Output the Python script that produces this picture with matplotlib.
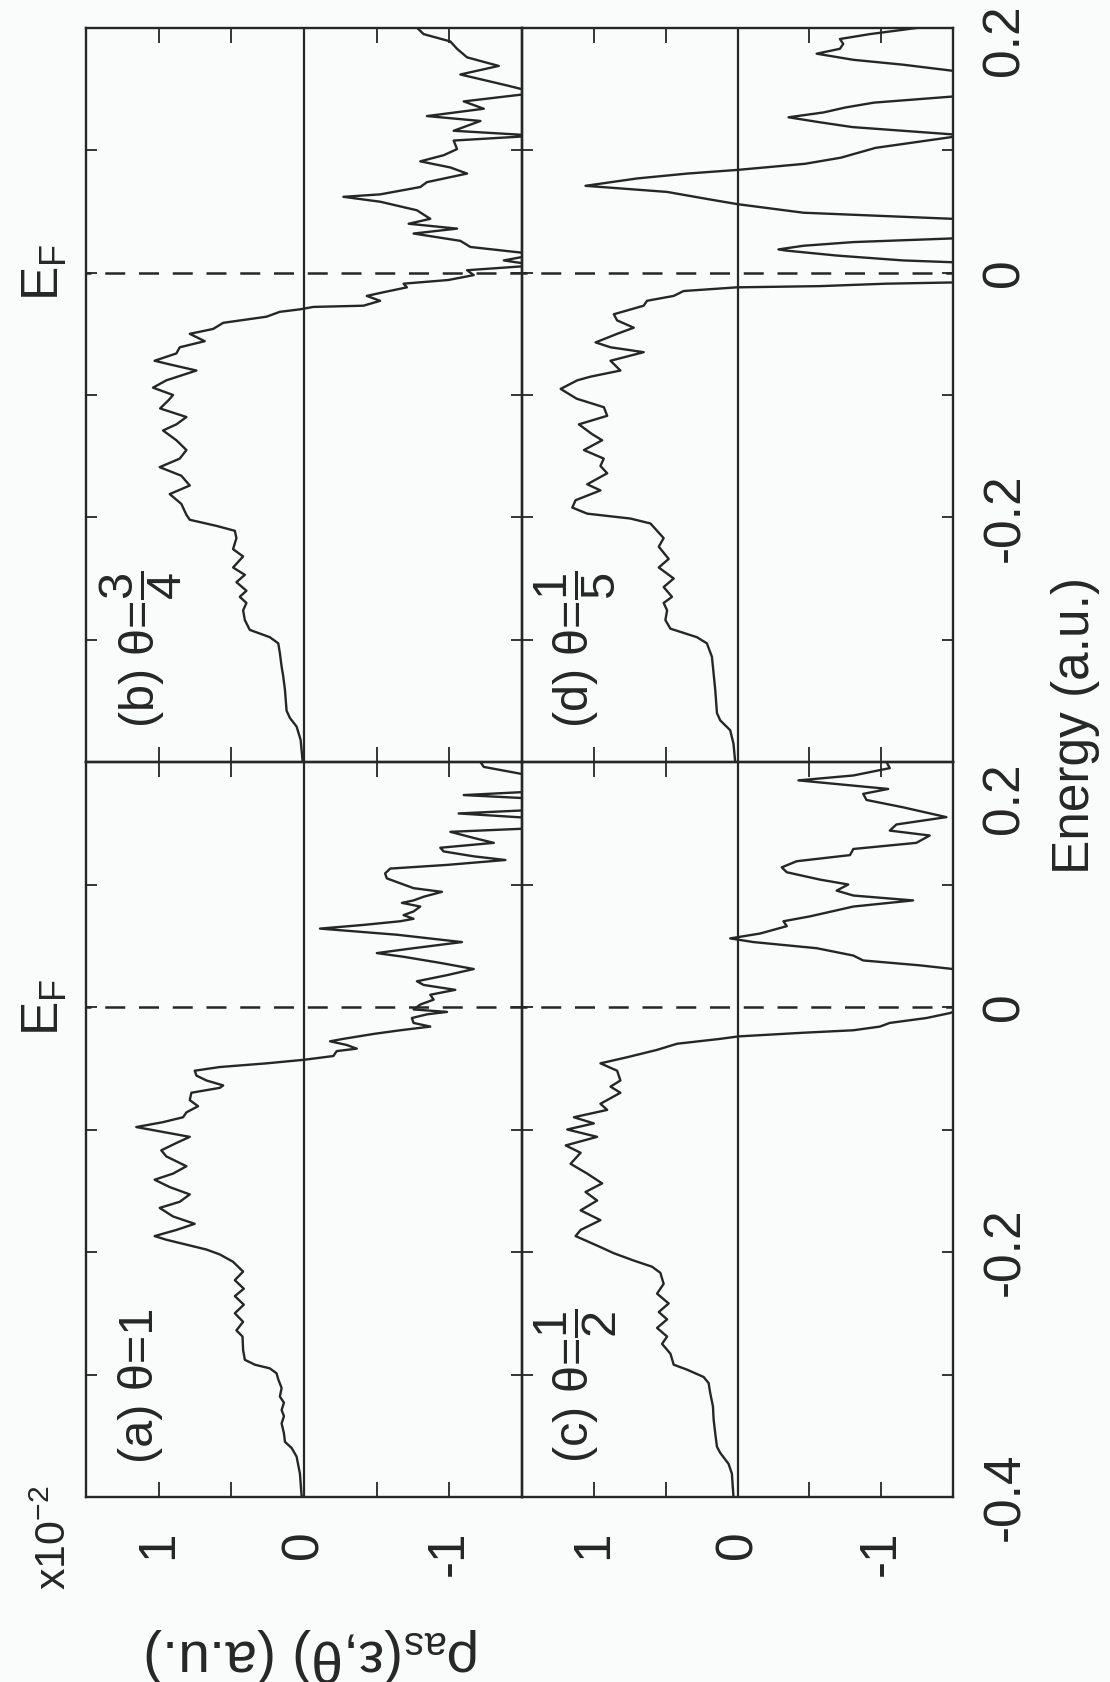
import matplotlib
matplotlib.use("Agg")
import matplotlib.pyplot as plt
import matplotlib.transforms as mtransforms

plt.rcParams['font.family'] = ['Liberation Sans', 'DejaVu Sans']
plt.rcParams['mathtext.fontset'] = 'custom'
plt.rcParams['mathtext.rm'] = 'Liberation Sans'
plt.rcParams['mathtext.it'] = 'Liberation Sans'
plt.rcParams['mathtext.bf'] = 'Liberation Sans:bold'
plt.rcParams['mathtext.sf'] = 'Liberation Sans'

# ---------------- data (energy in a.u., rho_as in units of 1e-2) ----------------
E_a = [-0.400, -0.381, -0.367, -0.360, -0.355, -0.348, -0.340, -0.334, -0.329, -0.323,
       -0.318, -0.311, -0.304, -0.299, -0.295, -0.292, -0.288, -0.280, -0.269, -0.264,
       -0.257, -0.250, -0.243, -0.236, -0.230, -0.223, -0.216, -0.208, -0.202, -0.198,
       -0.194, -0.190, -0.187, -0.182, -0.177, -0.171, -0.164, -0.159, -0.153, -0.147,
       -0.141, -0.136, -0.130, -0.122, -0.117, -0.111, -0.106, -0.098, -0.094, -0.090,
       -0.086, -0.081, -0.076, -0.070, -0.066, -0.064, -0.060, -0.056, -0.052, -0.049,
       -0.046, -0.043, -0.040, -0.036, -0.034, -0.031, -0.028, -0.026, -0.022, -0.019,
       -0.016, -0.013, -0.009, -0.006, -0.004, -0.002, 0.002, 0.006, 0.010, 0.014,
       0.018, 0.021, 0.026, 0.031, 0.036, 0.041, 0.044, 0.048, 0.053, 0.059,
       0.064, 0.067, 0.070, 0.072, 0.075, 0.078, 0.082, 0.085, 0.087, 0.090,
       0.094, 0.097, 0.101, 0.105, 0.109, 0.113, 0.116, 0.120, 0.123, 0.127,
       0.130, 0.134, 0.138, 0.143, 0.146, 0.154, 0.158, 0.161, 0.170, 0.173,
       0.176, 0.188, 0.196, 0.200]
rho_a = [0.016, 0.028, 0.051, 0.085, 0.131, 0.138, 0.154, 0.138, 0.154, 0.138,
         0.166, 0.154, 0.177, 0.189, 0.235, 0.338, 0.407, 0.419, 0.423, 0.465,
         0.419, 0.476, 0.414, 0.476, 0.414, 0.476, 0.419, 0.488, 0.579, 0.671,
         0.809, 0.947, 1.028, 0.878, 0.752, 0.901, 0.993, 0.855, 0.786, 0.924,
         1.028, 0.901, 0.809, 0.947, 0.982, 0.878, 0.786, 1.154, 0.970, 0.832,
         0.809, 0.729, 0.786, 0.775, 0.579, 0.556, 0.671, 0.740, 0.752, 0.579,
         0.258, -0.007, -0.202, -0.225, -0.363, -0.294, -0.179, -0.271, -0.478, -0.662,
         -0.869, -0.754, -0.742, -0.846, -0.984, -0.754, -0.800, -0.892, -0.869, -1.041,
         -0.823, -0.777, -0.984, -1.168, -0.938, -0.685, -0.501, -0.754, -1.087, -0.639,
         -0.110, -0.409, -0.662, -0.754, -0.685, -0.754, -0.800, -0.674, -0.754, -0.823,
         -0.949, -0.754, -0.662, -0.570, -0.558, -0.593, -0.984, -1.386, -1.168, -0.961,
         -0.938, -1.306, -1.168, -1.007, -1.600, -1.600, -1.064, -1.600, -1.600, -1.099,
         -1.600, -1.600, -1.237, -1.214]

E_b = [-0.400, -0.382, -0.371, -0.364, -0.358, -0.341, -0.330, -0.322, -0.311, -0.303,
       -0.298, -0.292, -0.284, -0.276, -0.270, -0.265, -0.260, -0.253, -0.247, -0.241,
       -0.232, -0.226, -0.217, -0.211, -0.207, -0.202, -0.198, -0.189, -0.181, -0.174,
       -0.166, -0.159, -0.152, -0.145, -0.137, -0.129, -0.124, -0.118, -0.111, -0.104,
       -0.100, -0.094, -0.088, -0.080, -0.075, -0.072, -0.066, -0.061, -0.056, -0.050,
       -0.046, -0.041, -0.036, -0.032, -0.030, -0.028, -0.027, -0.023, -0.019, -0.016,
       -0.012, -0.009, -0.006, -0.002, 0.002, 0.006, 0.010, 0.015, 0.021, 0.026,
       0.032, 0.036, 0.040, 0.044, 0.051, 0.058, 0.062, 0.064, 0.070, 0.074,
       0.081, 0.086, 0.091, 0.096, 0.101, 0.108, 0.112, 0.116, 0.124, 0.128,
       0.134, 0.140, 0.147, 0.153, 0.162, 0.169, 0.176, 0.183, 0.189, 0.195,
       0.200]
rho_b = [0.009, 0.023, 0.051, 0.097, 0.120, 0.131, 0.143, 0.154, 0.166, 0.177,
         0.235, 0.373, 0.407, 0.419, 0.396, 0.442, 0.396, 0.465, 0.407, 0.488,
         0.419, 0.488, 0.465, 0.476, 0.602, 0.786, 0.809, 0.844, 0.924, 0.786,
         0.844, 0.993, 0.855, 0.809, 0.878, 0.970, 0.878, 0.809, 0.990, 0.930,
         0.901, 1.039, 0.947, 0.740, 0.924, 1.028, 0.878, 0.855, 0.683, 0.786,
         0.625, 0.556, 0.258, 0.166, 0.028, -0.064, -0.409, -0.524, -0.432, -0.547,
         -0.708, -0.685, -0.993, -1.168, -1.122, -1.600, -1.375, -1.600, -1.145, -1.076,
         -0.754, -1.053, -0.720, -0.869, -0.777, -0.524, -0.271, -0.524, -0.800, -0.846,
         -1.122, -1.007, -0.800, -0.961, -1.053, -1.030, -1.600, -1.030, -1.214, -0.846,
         -1.237, -1.099, -1.600, -1.398, -1.076, -1.340, -1.122, -1.053, -1.007, -0.823,
         -0.780]

E_c = [-0.400, -0.381, -0.373, -0.364, -0.359, -0.348, -0.337, -0.326, -0.315, -0.307,
       -0.302, -0.296, -0.292, -0.283, -0.275, -0.269, -0.262, -0.255, -0.249, -0.242,
       -0.234, -0.226, -0.217, -0.212, -0.207, -0.201, -0.196, -0.187, -0.182, -0.174,
       -0.166, -0.158, -0.151, -0.144, -0.136, -0.128, -0.119, -0.113, -0.106, -0.100,
       -0.095, -0.090, -0.084, -0.079, -0.070, -0.065, -0.060, -0.052, -0.046, -0.041,
       -0.035, -0.030, -0.026, -0.024, -0.021, -0.019, -0.016, -0.013, -0.009, -0.005,
       0.000, 0.011, 0.022, 0.031, 0.034, 0.038, 0.042, 0.048, 0.053, 0.056,
       0.060, 0.066, 0.070, 0.074, 0.082, 0.087, 0.091, 0.095, 0.100, 0.104,
       0.110, 0.114, 0.119, 0.124, 0.129, 0.134, 0.140, 0.144, 0.149, 0.155,
       0.163, 0.169, 0.174, 0.178, 0.185, 0.189, 0.195, 0.200]
rho_c = [0.028, 0.039, 0.062, 0.120, 0.143, 0.155, 0.166, 0.171, 0.190, 0.201,
         0.236, 0.352, 0.444, 0.467, 0.525, 0.490, 0.560, 0.490, 0.548, 0.479,
         0.560, 0.514, 0.537, 0.595, 0.722, 0.861, 0.954, 1.127, 1.092, 0.954,
         1.092, 0.977, 1.058, 0.942, 1.046, 1.162, 1.092, 1.196, 0.977, 1.185,
         1.000, 1.139, 0.907, 0.954, 0.815, 0.884, 0.815, 0.838, 0.954, 0.768,
         0.560, 0.421, 0.120, -0.007, -0.459, -0.806, -0.991, -1.060, -1.315, -1.477,
         -1.600, -1.700, -1.600, -1.500, -1.269, -0.875, -0.806, -0.551, -0.111, 0.051,
         -0.158, -0.343, -0.320, -0.505, -0.806, -1.222, -0.806, -0.690, -0.771, -0.574,
         -0.343, -0.308, -0.412, -0.783, -0.806, -1.245, -1.338, -1.060, -1.106, -1.454,
         -1.153, -0.898, -0.875, -1.049, -0.424, -0.806, -1.060, -1.037]

E_d = [-0.400, -0.385, -0.374, -0.366, -0.360, -0.341, -0.328, -0.314, -0.303, -0.298,
       -0.291, -0.284, -0.276, -0.270, -0.265, -0.257, -0.250, -0.241, -0.234, -0.224,
       -0.217, -0.211, -0.205, -0.201, -0.197, -0.192, -0.186, -0.178, -0.173, -0.164,
       -0.158, -0.152, -0.145, -0.137, -0.132, -0.124, -0.117, -0.110, -0.103, -0.095,
       -0.088, -0.085, -0.080, -0.072, -0.065, -0.061, -0.057, -0.050, -0.045, -0.039,
       -0.034, -0.027, -0.023, -0.019, -0.015, -0.012, -0.011, -0.009, -0.008, 0.000,
       0.0085, 0.010, 0.014, 0.018, 0.019, 0.022, 0.025, 0.028, 0.036, 0.044,
       0.049, 0.056, 0.060, 0.066, 0.071, 0.077, 0.081, 0.084, 0.089, 0.094,
       0.102, 0.111, 0.113, 0.119, 0.123, 0.127, 0.131, 0.135, 0.139, 0.144,
       0.154, 0.165, 0.170, 0.174, 0.179, 0.183, 0.187, 0.191, 0.195, 0.200]
rho_d = [0.016, 0.028, 0.051, 0.120, 0.143, 0.155, 0.166, 0.178, 0.213, 0.282,
         0.467, 0.502, 0.490, 0.514, 0.456, 0.514, 0.444, 0.548, 0.479, 0.548,
         0.514, 0.560, 0.606, 0.745, 1.046, 1.150, 1.127, 0.954, 1.046, 0.907,
         0.954, 0.931, 1.069, 0.942, 1.012, 1.104, 0.907, 0.930, 1.120, 1.231,
         1.115, 1.023, 0.815, 0.884, 0.653, 0.884, 0.988, 0.838, 0.722, 0.838,
         0.861, 0.653, 0.630, 0.444, 0.375, 0.005, -0.574, -1.037, -1.500, -1.700,
         -1.500, -1.153, -0.690, -0.343, -0.285, -0.459, -0.806, -1.500, -1.700, -1.500,
         -0.459, 0.000, 0.200, 0.490, 1.058, 0.700, 0.350, 0.000, -0.470, -0.720,
         -0.960, -1.500, -1.500, -0.800, -0.570, -0.355, -0.600, -0.750, -0.950, -1.500,
         -1.700, -1.500, -1.153, -0.806, -0.551, -0.713, -0.736, -0.713, -0.921, -1.245]

panel_labels = ['(a) θ=1', '(b) θ=$\\dfrac{3}{4}$', '(c) θ=$\\dfrac{1}{2}$', '(d) θ=$\\dfrac{1}{5}$']
energy_ticks = [-0.4, -0.3, -0.2, -0.1, 0.0, 0.1, 0.2]
energy_labels_low = ['-0.4', '', '-0.2', '', '0', '', '0.2']
energy_labels_high = ['', '', '-0.2', '', '0', '', '0.2']
rho_ticks = [1.0, 0.5, 0.0, -0.5, -1.0]
rho_labels = ['1', '', '0', '', '-1']
E_fermi = 0.0
x_label = 'Energy (a.u.)'
y_label = 'ρ$_{\\rm as}$(ε,θ) (a.u.)'
scale_label = 'x10$^{-2}$'
fermi_label = 'E$_{\\rm F}$'

# ---------------- figure ----------------
W, H = 1110, 1682
INK = '#262626'
fig = plt.figure(figsize=(W / 100, H / 100), dpi=100)
fig.patch.set_facecolor('#fafbfb')


def rect(x0, x1, y0, y1):
    return [x0 / W, 1 - y1 / H, (x1 - x0) / W, (y1 - y0) / H]


ax_b = fig.add_axes(rect(86, 522, 28, 762))
ax_a = fig.add_axes(rect(86, 522, 762, 1497))
ax_d = fig.add_axes(rect(522, 953, 28, 762))
ax_c = fig.add_axes(rect(522, 953, 762, 1497))

panels = [
    (ax_a, E_a, rho_a, panel_labels[0], True, False),
    (ax_b, E_b, rho_b, panel_labels[1], False, False),
    (ax_c, E_c, rho_c, panel_labels[2], True, True),
    (ax_d, E_d, rho_d, panel_labels[3], False, True),
]

for ax, E, rho, lab, bottom_row, right_col in panels:
    ax.set_facecolor('none')
    ax.plot(rho, E, color=INK, lw=1.7, solid_joinstyle='round', clip_on=True)
    ax.axvline(0, color=INK, lw=1.6)
    ax.axhline(E_fermi, color=INK, lw=1.8, linestyle=(6, (8, 5.5)))
    ax.set_xlim(1.5, -1.5)
    ax.set_ylim(-0.4, 0.2)
    for s in ax.spines.values():
        s.set_linewidth(1.7)
        s.set_color(INK)
    ax.set_xticks(rho_ticks)
    ax.set_xticklabels(rho_labels if bottom_row else [''] * len(rho_ticks))
    ax.set_yticks(energy_ticks)
    if right_col:
        ax.set_yticklabels(energy_labels_low if bottom_row else energy_labels_high)
    else:
        ax.set_yticklabels([''] * len(energy_ticks))
    ax.tick_params(axis='x', direction='in', length=11, width=1.3, color=INK,
                   top=True, bottom=True, labeltop=False, labelbottom=bottom_row,
                   labelrotation=90, pad=24, labelsize=37, labelcolor=INK)
    ax.tick_params(axis='y', direction='in', length=8, width=1.3, color=INK,
                   left=True, right=True, labelleft=False, labelright=right_col,
                   labelrotation=90, pad=20, labelsize=37, labelcolor=INK)
    for t in ax.yaxis.get_major_ticks():
        t.label2.set_verticalalignment('center')
    ax.text(0.125, 0.046, lab, transform=ax.transAxes, rotation=90,
            ha='center', va='bottom', fontsize=35, color=INK)

# shift the top "0.2" labels down a little, as in the reference
for ax, dy in [(ax_c, 36), (ax_d, 12)]:
    tk = ax.yaxis.get_major_ticks()[-1]
    tk.label2.set_transform(tk.label2.get_transform() +
                            mtransforms.ScaledTranslation(0, -dy / 100, fig.dpi_scale_trans))

# Fermi-level labels (original "top" = left side here)
for ax in (ax_a, ax_b):
    tr = mtransforms.blended_transform_factory(ax.transAxes, ax.transData)
    ax.text(-0.094, E_fermi, fermi_label, transform=tr, rotation=90,
            ha='center', va='center', fontsize=37, color=INK, clip_on=False)

fig.text(1075 / W, 1 - 725 / H, x_label, rotation=90, ha='center', va='center',
         fontsize=37, color=INK)
fig.text(313 / W, 1 - 1655 / H, y_label, rotation=180, ha='center', va='center',
         fontsize=41, color=INK)
fig.text(55 / W, 1 - 1538 / H, scale_label, rotation=90, ha='center', va='center',
         fontsize=31, color=INK)

fig.savefig('out.png', dpi=100, facecolor=fig.get_facecolor())
